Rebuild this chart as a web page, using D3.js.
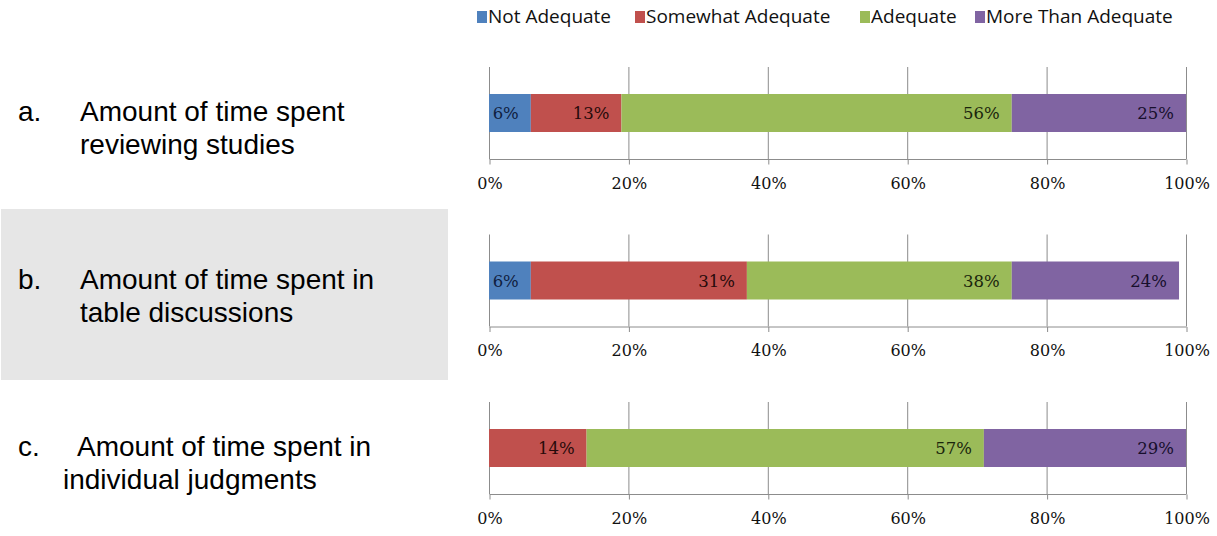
<!DOCTYPE html>
<html>
<head>
<meta charset="utf-8">
<script src="https://cdn.jsdelivr.net/npm/d3@7"></script>
<style>
  html, body { margin: 0; padding: 0; background: #fff; }
  svg { display: block; }
</style>
</head>
<body>
<svg id="chart" width="1217" height="536"></svg>
<script>
// Survey items and their response shares (%)
const itemLetters = ["a.", "b.", "c."];
const itemLines = [
  ["Amount of time spent", "reviewing studies"],
  ["Amount of time spent in", "table discussions"],
  ["Amount of time spent in", "individual judgments"]
];
const seriesNames = ["Not Adequate", "Somewhat Adequate", "Adequate", "More Than Adequate"];
const notAdequate = [6, 6, 0];
const somewhatAdequate = [13, 31, 14];
const adequate = [56, 38, 57];
const moreThanAdequate = [25, 24, 29];
const tickValues = [0, 20, 40, 60, 80, 100];

const colors = ["#4f81bd", "#c0504d", "#9bbb59", "#8064a2"];
const labelColors = ["#0f2040", "#260a0a", "#1a250c", "#170f2c"];

const rows = itemLetters.map((l, i) => ({
  "Not Adequate": notAdequate[i],
  "Somewhat Adequate": somewhatAdequate[i],
  "Adequate": adequate[i],
  "More Than Adequate": moreThanAdequate[i]
}));
const stacked = d3.stack().keys(seriesNames)(rows);

const svg = d3.select("#chart");
const x = d3.scaleLinear().domain([0, 100]).range([489, 1186]);
const panelY = d3.scaleLinear().domain([0, 2]).range([67, 402]);

const serif = "'DejaVu Serif', 'Liberation Serif', serif";
const sans = "'Liberation Sans', Arial, sans-serif";

// shaded band behind the middle item
svg.append("rect")
  .attr("x", 1).attr("y", 209).attr("width", 447).attr("height", 171)
  .attr("fill", "#e6e6e6");

// legend
const legendX = [477, 635, 860, 975];
const legend = svg.append("g").attr("class", "legend");
seriesNames.forEach((name, k) => {
  const g = legend.append("g").attr("transform", `translate(${legendX[k]},0)`);
  g.append("rect").attr("x", 0).attr("y", 11).attr("width", 10).attr("height", 12).attr("fill", colors[k]);
  g.append("text").attr("x", 11).attr("y", 23)
    .attr("font-family", "'Open Sans', sans-serif")
    .attr("font-size", 19).attr("fill", "#111")
    .text(name);
});

// indents of the two question lines for each item
const lineX = [[80, 80], [80, 80], [77, 63]];

itemLetters.forEach((letter, i) => {
  const top = panelY(i);
  const g = svg.append("g").attr("transform", `translate(0,${top})`);

  // question text
  const lblY = 54;
  g.append("text").attr("x", 18).attr("y", lblY)
    .attr("font-family", sans).attr("font-size", 28).attr("fill", "#000")
    .text(letter);
  itemLines[i].forEach((line, j) => {
    g.append("text").attr("x", lineX[i][j]).attr("y", lblY + j * 33)
      .attr("font-family", sans).attr("font-size", 28).attr("fill", "#000")
      .text(line);
  });

  // gridlines
  const axisY = 92;
  g.selectAll("line.grid").data(tickValues).enter().append("line")
    .attr("class", "grid")
    .attr("x1", d => x(d) + 0.5).attr("x2", d => x(d) + 0.5)
    .attr("y1", 0).attr("y2", axisY)
    .attr("stroke", "#8c8c8c").attr("stroke-width", 1);

  // axis with ticks and labels
  const axis = d3.axisBottom(x).tickValues(tickValues).tickFormat(d => d + "%").tickSize(5).tickPadding(13);
  const ax = g.append("g").attr("transform", `translate(0.5,${axisY + 0.5})`).call(axis);
  ax.select(".domain").attr("stroke", "#8c8c8c").attr("d", `M${x(0)},0H${x(100)}`);
  ax.selectAll(".tick line").attr("stroke", "#8c8c8c");
  ax.selectAll(".tick text")
    .attr("font-family", serif).attr("font-size", 16).attr("fill", "#111");

  // stacked bar segments with inside-end value labels
  const barTop = 27, barH = 38;
  stacked.forEach((s, k) => {
    const seg = s[i];
    if (seg[1] - seg[0] <= 0) return;
    g.append("rect")
      .attr("x", x(seg[0])).attr("y", barTop)
      .attr("width", x(seg[1]) - x(seg[0])).attr("height", barH)
      .attr("fill", colors[k]);
    g.append("text")
      .attr("x", x(seg[1]) - 12).attr("y", barTop + barH / 2 + 6)
      .attr("text-anchor", "end")
      .attr("font-family", serif).attr("font-size", 16.5).attr("fill", labelColors[k])
      .text((seg[1] - seg[0]) + "%");
  });
});
</script>
</body>
</html>
